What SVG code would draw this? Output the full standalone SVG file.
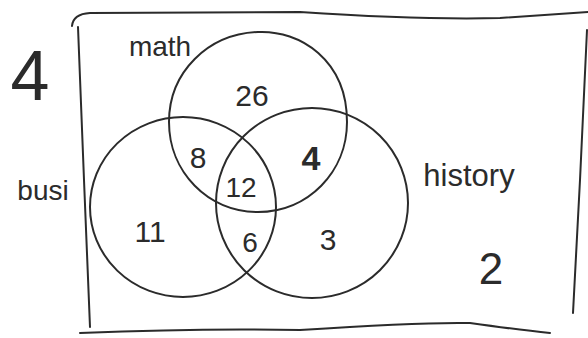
<svg xmlns="http://www.w3.org/2000/svg" width="588" height="338" viewBox="0 0 588 338">
<style>
.ln{fill:none;stroke:#2b2b2b;stroke-width:2;stroke-linecap:round}
.t{font-family:"Liberation Sans","DejaVu Sans",sans-serif;fill:#2b2b2b;text-anchor:middle}
</style>
<rect width="588" height="338" fill="#ffffff"/>
<g id="frame">
<path class="ln" d="M72,26 Q73,14 90,13 L300,12 Q420,20 500,18 L588,12"/>
<path class="ln" d="M78,27 L84,180 L90,327"/>
<path class="ln" d="M587,30 L580,180 L573,313"/>
<path class="ln" d="M80,333 Q200,328 300,330 Q420,322 470,323 Q520,330 550,333"/>
</g>
<g id="math">
<path class="ln" d="M258,32 C300,30 347,60 347,122 C347,172 308,212 258,212 C208,212 169,172 169,122 C169,72 208,34 258,32 Z"/>
<text class="t" x="160" y="56" font-size="28">math</text>
<text class="t" x="252" y="106" font-size="30">26</text>
</g>
<g id="busi">
<ellipse class="ln" cx="183" cy="207" rx="93" ry="90"/>
<text class="t" x="43" y="200" font-size="28">busi</text>
<text class="t" x="150" y="242" font-size="30">11</text>
</g>
<g id="history">
<ellipse class="ln" cx="312" cy="203" rx="96" ry="95"/>
<text class="t" x="469" y="186" font-size="31">history</text>
<text class="t" x="328" y="250" font-size="30">3</text>
</g>
<g id="regions">
<text class="t" x="198" y="168" font-size="30">8</text>
<text class="t" x="241" y="197" font-size="28">12</text>
<text class="t" x="311" y="170" font-size="34" font-weight="bold">4</text>
<text class="t" x="250" y="252" font-size="28">6</text>
</g>
<g id="outside">
<text class="t" x="30" y="100" font-size="70">4</text>
<text class="t" x="491" y="284" font-size="44">2</text>
</g>
<g id="connectors"></g>
</svg>
